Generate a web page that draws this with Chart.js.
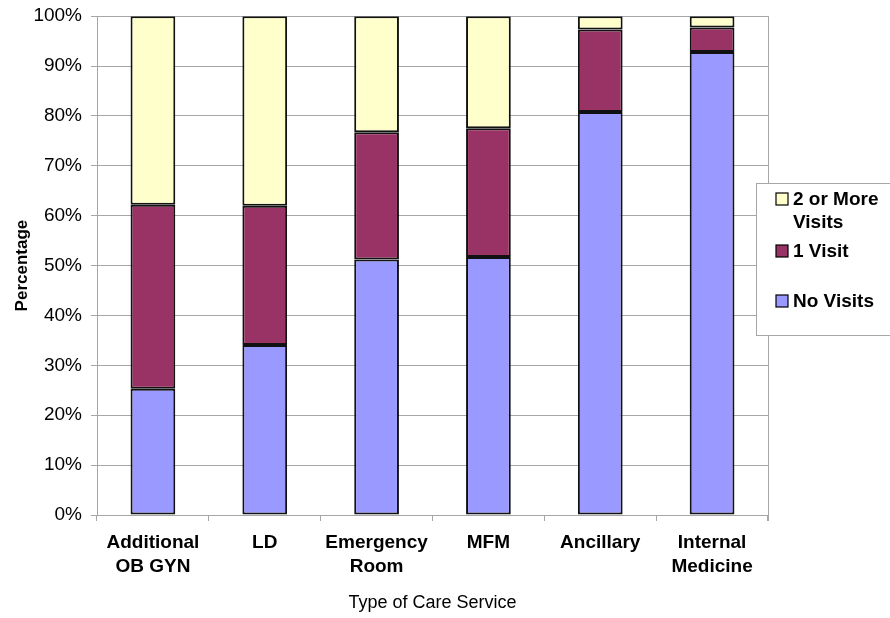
<!DOCTYPE html>
<html>
<head>
<meta charset="utf-8">
<script src="https://cdn.jsdelivr.net/npm/chart.js@4"></script>
<style>
  html, body { margin: 0; padding: 0; background: #fff; }
  #wrap { width: 890px; height: 618px; }
</style>
</head>
<body>
<div id="wrap"><canvas id="visitas"></canvas></div>
<script>
const categorias = [['Additional', 'OB GYN'], 'LD', ['Emergency', 'Room'], 'MFM', 'Ancillary', ['Internal', 'Medicine']];
const noVisits = [25.3, 34.1, 51.2, 51.7, 80.8, 92.8];
const oneVisit = [36.9, 27.9, 25.5, 25.8, 16.5, 4.9];
const twoOrMore = [37.8, 38.0, 23.3, 22.5, 2.7, 2.3];
const nombresSeries = [['2 or More', 'Visits'], '1 Visit', 'No Visits'];

const fuente = "'Liberation Sans', Arial, sans-serif";
const gris = '#a6a6a6';

// leyenda dibujada a mano (etiquetas de dos lineas como en el original)
const leyendaCaja = {
  id: 'leyendaCaja',
  afterDraw(chart) {
    const ctx = chart.ctx;
    const a = chart.chartArea;
    const x0 = a.right - 12, y0 = 183;
    ctx.save();
    ctx.fillStyle = '#fff';
    ctx.fillRect(x0, y0, 140, 152);
    ctx.strokeStyle = gris;
    ctx.lineWidth = 1;
    ctx.strokeRect(x0 + 0.5, y0 + 0.5, 140, 152);
    const items = [
      { ds: 2, y: 205, lines: nombresSeries[0] },
      { ds: 1, y: 257, lines: [nombresSeries[1]] },
      { ds: 0, y: 307, lines: [nombresSeries[2]] }
    ];
    ctx.font = 'bold 19px ' + fuente;
    ctx.textBaseline = 'alphabetic';
    items.forEach(it => {
      const d = chart.data.datasets[it.ds];
      ctx.fillStyle = d.backgroundColor;
      ctx.fillRect(x0 + 20, it.y - 12, 12, 12);
      ctx.strokeStyle = '#000';
      ctx.lineWidth = 1.2;
      ctx.strokeRect(x0 + 20, it.y - 12, 12, 12);
      ctx.fillStyle = '#000';
      it.lines.forEach((t, i) => ctx.fillText(t, x0 + 37, it.y + i * 23));
    });
    ctx.restore();
  }
};

const bordeDerecho = {
  id: 'bordeDerecho',
  beforeDatasetsDraw(chart) {
    const ctx = chart.ctx;
    const a = chart.chartArea;
    ctx.save();
    ctx.strokeStyle = gris;
    ctx.lineWidth = 1;
    ctx.beginPath();
    ctx.moveTo(a.right + 0.5, a.top);
    ctx.lineTo(a.right + 0.5, a.bottom + 6);
    ctx.stroke();
    ctx.restore();
  }
};

const ctxVisitas = document.getElementById('visitas').getContext('2d');

const visitasChart = new Chart(ctxVisitas, {
  type: 'bar',
  data: {
    labels: categorias,
    datasets: [
      { label: 'No Visits', data: noVisits, backgroundColor: '#9999ff' },
      { label: '1 Visit', data: oneVisit, backgroundColor: '#993366' },
      { label: '2 or More Visits', data: twoOrMore, backgroundColor: '#ffffcc' }
    ].map(d => Object.assign(d, {
      borderColor: '#111', borderWidth: 2, borderSkipped: false,
      categoryPercentage: 1, barPercentage: 0.4
    }))
  },
  options: {
    responsive: true,
    maintainAspectRatio: false,
    animation: false,
    layout: { padding: { top: 16, right: 122, left: 0, bottom: 0 } },
    plugins: { legend: { display: false }, tooltip: { enabled: false } },
    scales: {
      x: {
        stacked: true,
        afterFit: s => { s.height = 103; },
        grid: { offset: true, drawOnChartArea: false, color: gris, tickLength: 6 },
        border: { color: gris },
        ticks: { color: '#000', padding: 10, font: { family: fuente, size: 19, weight: 'bold', lineHeight: 1.25 }, maxRotation: 0 },
        title: { display: true, text: 'Type of Care Service', color: '#000', font: { family: fuente, size: 18 }, padding: { top: 6 } }
      },
      y: {
        stacked: true,
        min: 0,
        max: 100,
        afterFit: s => { s.width = 97; },
        grid: { color: gris, tickLength: 6 },
        border: { color: gris },
        ticks: { stepSize: 10, color: '#000', padding: 9, font: { family: fuente, size: 19, lineHeight: 0.75 }, callback: v => v + '%' },
        title: { display: true, text: 'Percentage', color: '#000', font: { family: fuente, size: 17, weight: 'bold' }, padding: { top: 12, bottom: 4 } }
      }
    }
  },
  plugins: [bordeDerecho, leyendaCaja]
});
</script>
</body>
</html>
